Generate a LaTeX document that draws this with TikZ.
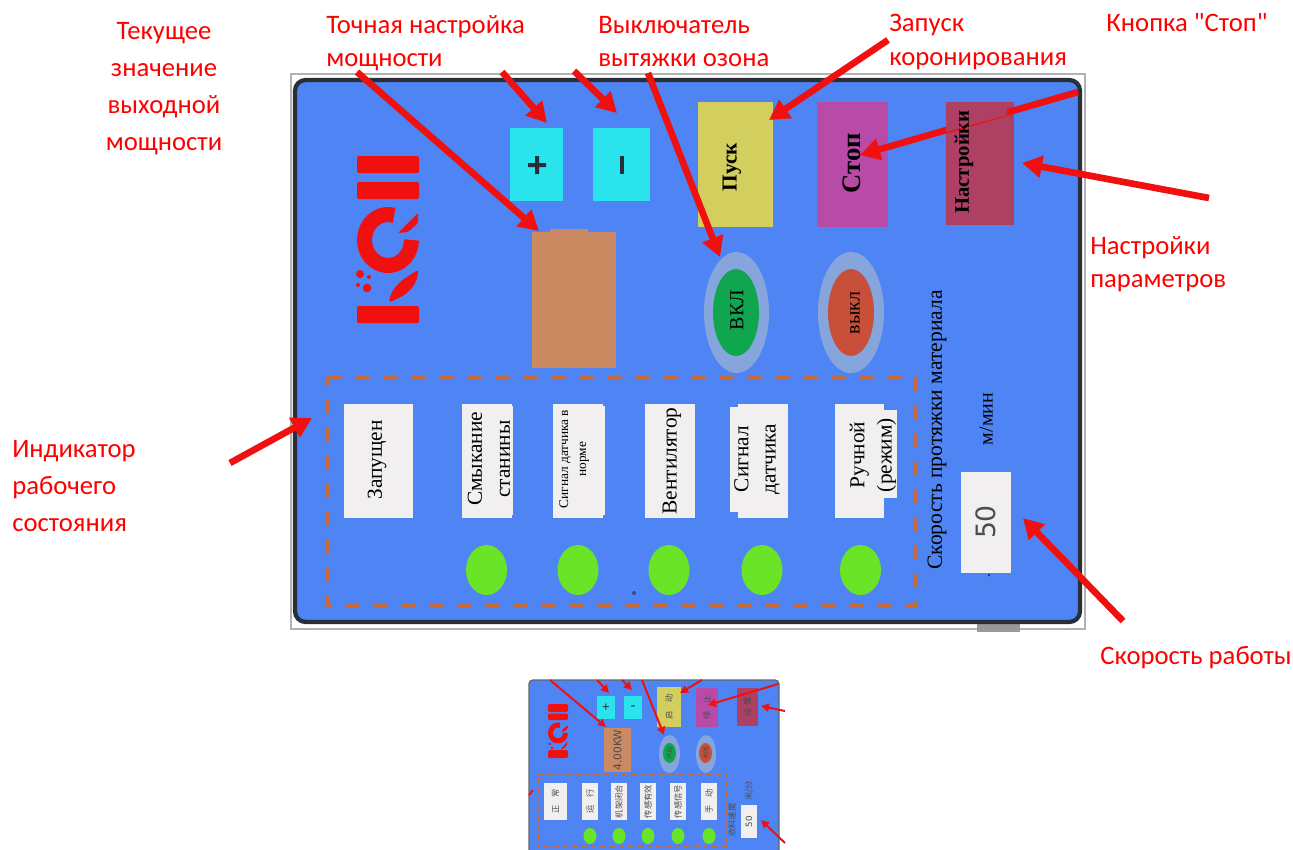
\documentclass[tikz,border=0pt]{standalone}
\usepackage{fontspec}
\setmainfont{Liberation Serif}
\setsansfont{DejaVu Sans}
\newfontfamily\lblfont{Carlito}
\newfontfamily\cjkfont{Noto Sans CJK SC}
\usetikzlibrary{arrows.meta,shapes.geometric}
\definecolor{panelblue}{HTML}{4F84F4}
\definecolor{redarrow}{HTML}{F01010}
\definecolor{cyanbtn}{HTML}{2BE3EC}
\definecolor{orangebox}{HTML}{CC8A63}
\definecolor{yellowbtn}{HTML}{D2CF5E}
\definecolor{magentabtn}{HTML}{B84AA8}
\definecolor{crimsonbtn}{HTML}{AE4064}
\definecolor{halo}{HTML}{86A5DC}
\definecolor{greenon}{HTML}{0FA64F}
\definecolor{redoff}{HTML}{C8503A}
\definecolor{lamp}{HTML}{69E426}
\definecolor{dashc}{HTML}{C66A3E}
\definecolor{framec}{HTML}{2A2E38}
\definecolor{paper}{HTML}{F1EFEF}
\tikzset{
 sz/.style 2 args={minimum width=#1*0.75pt,minimum height=#2*0.75pt,inner sep=0pt},
 lbl/.style={font=\lblfont\fontsize{20pt}{27.7pt}\selectfont,text=red,align=center,inner sep=0pt},
 lbltight/.style={font=\lblfont\fontsize{20pt}{25pt}\selectfont,text=red,align=left,inner sep=0pt,anchor=west},
 bigarrow/.style={draw=redarrow,line width=5pt,-{Triangle[length=15pt,width=16pt]}},
 tinyarrow/.style={draw=redarrow,line width=1.5pt,-{Triangle[length=6pt,width=6pt]}},
 rot/.style={rotate=90,align=center,inner sep=0pt,text=black},
 plate/.style={fill=paper,draw=none},
 logo/.style={fill=redarrow,draw=none,rounded corners=1pt},
 cjk/.style={rotate=90,font=\cjkfont\fontsize{6.2pt}{8pt}\selectfont,text=black!70,inner sep=0pt,align=center}
}
\begin{document}
\begin{tikzpicture}[x=0.75pt,y=-0.75pt]
\useasboundingbox (0,0) rectangle (1293,850);
\fill[white] (0,0) rectangle (1293,850);
% ---------- main panel
\draw[draw=black!30,fill=white,line width=0.8pt] (291,74) rectangle (1085,629);
\node[fill=black!40,sz={43}{13}] (tab) at (998.5,625) {};
\draw[draw=framec,line width=3.2pt,fill=panelblue,rounded corners=8pt] (295,80) rectangle (1080,622);
% logo
\path[logo] (357,156) rectangle (419,173);
\path[logo] (357,182) rectangle (419,199);
\path[logo] (357,306) rectangle (419,323);
\draw[redarrow,line width=11.25pt] (388,240) ++(-75:23.5 and 25.5) arc[start angle=-75,end angle=-360,x radius=23.5,y radius=25.5];
\path[logo] (398,233) -- (418,213) -- (418,223) -- (408,232) -- cycle;
\path[logo] (389,302) .. controls (392,285) and (405,278) .. (418,270) .. controls (418,285) and (407,296) .. (389,302) -- cycle;
\fill[redarrow] (360,274) circle (3pt) (367,288) circle (3.2pt) (358,285) circle (1.5pt) (369,277) circle (1.5pt);
% plus minus
\node[fill=cyanbtn,sz={53}{73}] (plus) at (536.5,164.5) {};
\fill[framec] (528,163) rectangle (546,167) (535,156) rectangle (539,174);
\node[fill=cyanbtn,sz={57}{73}] (minus) at (621.5,164.5) {};
\fill[framec] (619.5,156) rectangle (623.5,174);
% orange
\node[fill=orangebox,sz={84}{136}] (power) at (574,300) {};
\fill[orangebox] (550,229) rectangle (588,240);
% top buttons
\node[fill=yellowbtn,sz={75}{125}] (start) at (735.5,164.5) {};
\node[rot,font=\bfseries\fontsize{16pt}{16pt}\selectfont] at (732,167) {Пуск};
\node[fill=magentabtn,sz={71}{125}] (stop) at (852.5,164.5) {};
\node[rot,font=\bfseries\fontsize{20pt}{20pt}\selectfont] (stoplab) at (852,163) {Стоп};
\node[fill=crimsonbtn,sz={68}{123}] (setup) at (980,163.5) {};
% on / off
\node[ellipse,fill=halo,sz={65}{121}] (onhalo) at (736.5,312.5) {};
\node[ellipse,fill=greenon,sz={46}{87}] (on) at (736,312.5) {};
\node[rot,font=\fontsize{15pt}{15pt}\selectfont] at (737,310) {ВКЛ};
\node[ellipse,fill=halo,sz={66}{121}] (offhalo) at (851,312.5) {};
\node[ellipse,fill=redoff,sz={46}{87}] (off) at (851,312.5) {};
\node[rot,font=\fontsize{15pt}{15pt}\selectfont] at (855,313) {выкл};
% dashed frame
\draw[dashc,line width=3pt,dash pattern=on 10.5pt off 10.5pt] (327,378) -- (916,378) -- (916,605) -- (327,605) -- cycle;
% plates
\node[plate,sz={69.5}{114}] (p1) at (378.25,461) {};
\node[rot,font=\fontsize{16pt}{16pt}\selectfont] at (377,460) {Запущен};
\node[plate,sz={50}{114}] (p2) at (487,461) {};
\fill[paper] (500,406) rectangle (513,515);
\node[rot,font=\fontsize{16pt}{21pt}\selectfont] at (489,459) {Смыкание\\станины};
\node[plate,sz={50}{114}] (p3) at (578,461) {};
\fill[paper] (580,406) rectangle (605,515);
\node[rot,font=\fontsize{10pt}{13.5pt}\selectfont] at (574,459) {Сигнал датчика в\\норме};
\node[plate,sz={50}{114}] (p4) at (670,461) {};
\node[rot,font=\fontsize{16pt}{16pt}\selectfont] at (672,461) {Вентилятор};
\node[plate,sz={50}{114}] (p5) at (763,461) {};
\fill[paper] (730,407) rectangle (760,512);
\node[rot,font=\fontsize{16pt}{20.5pt}\selectfont] at (757,459) {Сигнал\\датчика};
\node[plate,sz={49}{114}] (p6) at (859.5,461) {};
\fill[paper] (870,410) rectangle (897,498);
\node[rot,font=\fontsize{16pt}{20.5pt}\selectfont] at (873,455) {Ручной\\(режим)};
% lamps
\foreach \n/\x in {l1/486.5,l2/578,l3/669,l4/762,l5/860.5}
  \node[ellipse,fill=lamp,sz={41}{50}] (\n) at (\x,570) {};
\fill[panelblue!60!black] (634,593) circle (1.5pt);
\fill[panelblue!40!black] (989,575) circle (1pt);
% speed
\node[rot,font=\fontsize{16.2pt}{16.2pt}\selectfont] at (937,430) {Скорость протяжки материала};
\node[rot,font=\fontsize{15pt}{15pt}\selectfont] at (986,419) {м/мин};
\node[plate,sz={50}{101}] (speed) at (986,522.5) {};
\node[rot,font=\sffamily\fontsize{20pt}{20pt}\selectfont,text=black!70] at (986,522) {50};
% labels
\node[lbl] (t1) at (164,88.5) {Текущее\\значение\\выходной\\мощности};
\node[lbltight] (t2) at (326,43) {Точная настройка\\мощности};
\node[lbltight] (t3) at (598,41.5) {Выключатель\\вытяжки озона};
\node[lbltight] (t4) at (889,42) {Запуск\\коронирования};
\node[lbl] (t5) at (1187,23) {Кнопка "Стоп"};
\node[lbltight] (t6) at (1090,264) {Настройки\\параметров};
\node[lbl,align=left,anchor=west] (t7) at (12,486) {Индикатор\\рабочего\\состояния};
\node[lbl] (t8) at (1196,658) {Скорость работы};
% arrows
\coordinate (a1s) at (357,72); \coordinate (a1e) at (539,231);
\coordinate (a2s) at (502,72); \coordinate (a2e) at (547,123);
\coordinate (a3s) at (574,71); \coordinate (a3e) at (617,113);
\coordinate (a4s) at (648,73); \coordinate (a4e) at (720,257);
\coordinate (a5s) at (888,40); \coordinate (a5e) at (769,120);
\coordinate (a6s) at (1078,92); \coordinate (a6e) at (860,155);
\coordinate (a7s) at (1209,198); \coordinate (a7e) at (1022,163);
\coordinate (a8s) at (230,463); \coordinate (a8e) at (312,418);
\coordinate (a9s) at (1123,621); \coordinate (a9e) at (1023,518);
\foreach \n in {1,...,9} \draw[bigarrow] (a\n s) -- (a\n e);
% patch of the settings key over the stop arrow, then its text
\fill[crimsonbtn] (946,102) -- (1006.7,102) -- (1006.7,115) -- (946,132) -- cycle;
\node[rot,font=\bfseries\fontsize{15.5pt}{15.5pt}\selectfont] at (964,162) {Настройки};
% ---------- thumbnail
\fill[white] (529,680) rectangle (780,850);
\path[fill=panelblue,draw=black!60,line width=1pt,rounded corners=3pt] (529,850) -- (529,680) -- (779,680) -- (779,850);
\path[logo] (548,704) rectangle (568,712);
\path[logo] (548,713.5) rectangle (568,720);
\path[logo] (548,750) rectangle (568,758);
\draw[redarrow,line width=3.75pt] (558,733) ++(-75:7.5 and 8) arc[start angle=-75,end angle=-360,x radius=7.5,y radius=8];
\path[logo] (561,731) -- (568,725) -- (568,728) -- (564,732) -- cycle;
\path[logo] (560,750) -- (568,741) -- (566,747) -- cycle;
\fill[redarrow] (550,744) circle (1pt) (552,748) circle (1pt);
\node[fill=cyanbtn,sz={18}{23},font=\fontsize{10pt}{10pt}\selectfont\bfseries,text=framec] (tplus) at (606,707.5) {+};
\node[fill=cyanbtn,sz={18}{23},font=\fontsize{10pt}{10pt}\selectfont\bfseries,text=framec] (tminus) at (633,707.5) {-};
\node[fill=orangebox,sz={27}{44}] (tpower) at (617.5,750) {};
\node[rot,font=\sffamily\fontsize{8pt}{8pt}\selectfont,text=black!70] at (617.5,750) {4.00KW};
\node[fill=yellowbtn,sz={24}{40}] (tstart) at (669,707) {};
\node[cjk] at (669,707) {启\hspace{1em}动};
\node[fill=magentabtn,sz={22}{39}] (tstop) at (707,707.5) {};
\node[cjk] at (707,707.5) {停\hspace{1em}止};
\node[fill=crimsonbtn,sz={21}{38}] (tsetup) at (747.5,707) {};
\node[cjk] at (747.5,707) {设\hspace{0.3em}置};
\node[ellipse,fill=halo,sz={21}{38}] (tonh) at (669.5,754) {};
\node[ellipse,fill=greenon,sz={13}{20}] (ton) at (669.5,753) {};
\node[cjk,font=\cjkfont\fontsize{5pt}{5pt}\selectfont] at (669.5,753) {开启};
\node[ellipse,fill=halo,sz={20}{38}] (toffh) at (706,754) {};
\node[ellipse,fill=redoff,sz={13}{20}] (toff) at (705.5,753) {};
\node[cjk,font=\cjkfont\fontsize{5pt}{5pt}\selectfont] at (705.5,753) {关闭};
\draw[dashc,line width=1.2pt,dash pattern=on 4pt off 3pt] (538,775) -- (727,775) -- (727,847) -- (538,847) -- cycle;
\foreach \n/\x/\w/\t in {q1/555.5/23/正\hspace{1em}常,q2/590/16/运\hspace{1em}行,q3/619/16/机架闭合,q4/648/16/传感有效,q5/678/16/传感信号,q6/709/16/手\hspace{1em}动}{
  \node[plate,sz={\w}{37}] (\n) at (\x,801.5) {};
  \node[cjk] at (\x,801.5) {\t};
}
\foreach \n/\x in {m1/590,m2/619,m3/648,m4/678,m5/709}
  \node[ellipse,fill=lamp,sz={13}{16}] (\n) at (\x,836) {};
\node[cjk] at (732,820) {收料速度};
\node[cjk] at (749,791) {米/分};
\node[plate,sz={16}{33}] (tspeed) at (749,821.5) {};
\node[rot,font=\sffamily\fontsize{6.5pt}{6.5pt}\selectfont,text=black!70] at (749,821.5) {50};
% thumbnail arrows
\coordinate (b1s) at (550,680); \coordinate (b1e) at (606,727);
\coordinate (b2s) at (597,680); \coordinate (b2e) at (609,693);
\coordinate (b3s) at (622,680); \coordinate (b3e) at (632,690);
\coordinate (b4s) at (642,680); \coordinate (b4e) at (664,735);
\coordinate (b5s) at (702,680); \coordinate (b5e) at (680,693);
\coordinate (b6s) at (778,684); \coordinate (b6e) at (708,705);
\coordinate (b7s) at (785,711); \coordinate (b7e) at (761,706);
\coordinate (b8s) at (785,843); \coordinate (b8e) at (761,820);
\coordinate (b9s) at (529,795); \coordinate (b9e) at (533,790);
\foreach \n in {1,...,8} \draw[tinyarrow] (b\n s) -- (b\n e);
\draw[redarrow,line width=1.5pt] (b9s) -- (b9e);
\end{tikzpicture}
\end{document}
